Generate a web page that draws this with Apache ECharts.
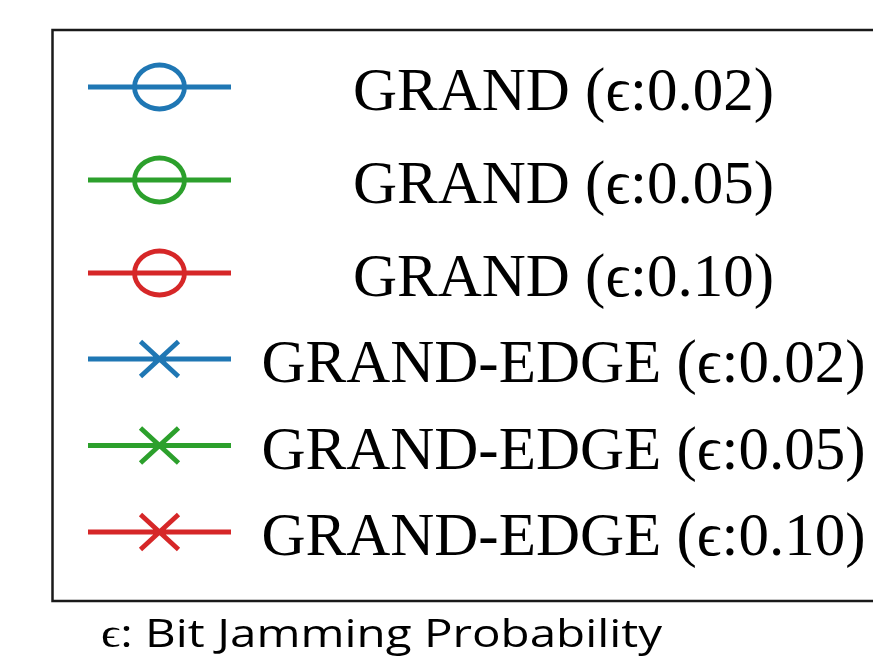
<!DOCTYPE html>
<html>
<head>
<meta charset="utf-8">
<style>
  html, body { margin: 0; padding: 0; background: #fff; }
  #chart { width: 873px; height: 663px; }
</style>
<script src="https://cdn.jsdelivr.net/npm/echarts@6/dist/echarts.min.js"></script>
</head>
<body>
<div id="chart"></div>
<script>
// Decoders and jamming probabilities shown in the key
const methods = ['GRAND', 'GRAND-EDGE'];
const methodMarkers = ['circle', 'cross'];
const epsilons = ['0.02', '0.05', '0.10'];
const epsilonColors = ['#1f77b4', '#2ca02c', '#d62728'];
const noteText = 'ϵ: Bit Jamming Probability';

// Legend icon geometry: a thick line with a marker in the middle, built as
// filled outlines so the stroke weight is exact. The line sits a little above
// the item's middle so the label baseline lines up with it.
const ICON_W = 143, ICON_H = 68, LINE_Y = 27, HALF_T = 2.4;

function fmt(v) { return (Math.round(v * 100) / 100).toString(); }

function polygon(pts) {
  // keep every piece wound the same way so overlaps stay filled
  let area = 0;
  for (let i = 0; i < pts.length; i++) {
    const a = pts[i], b = pts[(i + 1) % pts.length];
    area += a[0] * b[1] - b[0] * a[1];
  }
  if (area < 0) pts = pts.slice().reverse();
  return ' M' + pts.map(function (p) { return fmt(p[0]) + ',' + fmt(p[1]); }).join(' L') + ' Z';
}

function bar(x1, y1, x2, y2) {
  const len = Math.hypot(x2 - x1, y2 - y1);
  const nx = -(y2 - y1) / len * HALF_T, ny = (x2 - x1) / len * HALF_T;
  return polygon([[x1 + nx, y1 + ny], [x2 + nx, y2 + ny], [x2 - nx, y2 - ny], [x1 - nx, y1 - ny]]);
}

function ellipse(cx, cy, rx, ry, sweep) {
  return ' M' + fmt(cx + rx) + ',' + fmt(cy) +
    ' A' + rx + ',' + ry + ' 0 1 ' + sweep + ' ' + fmt(cx - rx) + ',' + fmt(cy) +
    ' A' + rx + ',' + ry + ' 0 1 ' + sweep + ' ' + fmt(cx + rx) + ',' + fmt(cy) + ' Z';
}

function iconPath(marker) {
  const cx = ICON_W / 2, cy = LINE_Y;
  let p = 'path://M0,0 M' + ICON_W + ',' + ICON_H;
  p += bar(0, cy, ICON_W, cy);
  if (marker === 'circle') {
    const rx = 25, ry = 22;
    p += ellipse(cx, cy, rx + HALF_T, ry + HALF_T, 1);
    p += ellipse(cx, cy, rx - HALF_T, ry - HALF_T, 0);
  } else {
    const hx = 19, hy = 17.5;
    p += bar(cx - hx, cy - hy, cx + hx, cy + hy);
    p += bar(cx - hx, cy + hy, cx + hx, cy - hy);
  }
  return p;
}

const seriesList = [];
const legendGroups = [];
methods.forEach(function (m, mi) {
  const items = [];
  epsilons.forEach(function (e, ei) {
    const name = m + ' (ϵ:' + e + ')';
    const color = epsilonColors[ei];
    seriesList.push({
      type: 'line',
      name: name,
      data: [],
      color: color,
      lineStyle: { color: color, width: 4 },
      itemStyle: { color: color }
    });
    items.push({
      name: name,
      icon: iconPath(methodMarkers[mi]),
      itemStyle: { color: color, borderWidth: 0 }
    });
  });
  legendGroups.push(items);
});

const FONT_SIZE = 61;
const textRich = {
  t: {
    width: 655,
    align: 'center',
    fontFamily: 'Liberation Serif',
    fontSize: FONT_SIZE,
    lineHeight: 60,
    color: '#000'
  }
};

function makeLegend(items, top, gap) {
  return {
    show: true,
    orient: 'vertical',
    left: 88,
    top: top,
    padding: 0,
    itemGap: gap,
    itemWidth: ICON_W,
    itemHeight: ICON_H,
    selectedMode: false,
    symbolKeepAspect: true,
    data: items,
    formatter: function (name) { return '{t|' + name + '}'; },
    textStyle: { fontFamily: 'Liberation Serif', fontSize: FONT_SIZE, color: '#000', rich: textRich }
  };
}

const chart = echarts.init(document.getElementById('chart'), null, { renderer: 'canvas' });
chart.setOption({
  backgroundColor: '#fff',
  animation: false,
  grid: { left: 0, top: 0, width: 1, height: 1, show: false },
  xAxis: { type: 'value', show: false },
  yAxis: { type: 'value', show: false },
  legend: [
    makeLegend(legendGroups[0], 60, 25),
    makeLegend(legendGroups[1], 332, 18.5)
  ],
  graphic: [{
    type: 'rect',
    silent: true,
    shape: { x: 52.5, y: 30, width: 900, height: 571 },
    style: { fill: 'none', stroke: '#1a1a1a', lineWidth: 2.5 }
  }, {
    type: 'text',
    silent: true,
    x: 101,
    y: 616,
    scaleX: 1.22,
    style: {
      text: noteText,
      fontFamily: 'Open Sans',
      fontSize: 39,
      fill: '#000',
      verticalAlign: 'top'
    }
  }],
  series: seriesList
});
</script>
</body>
</html>
